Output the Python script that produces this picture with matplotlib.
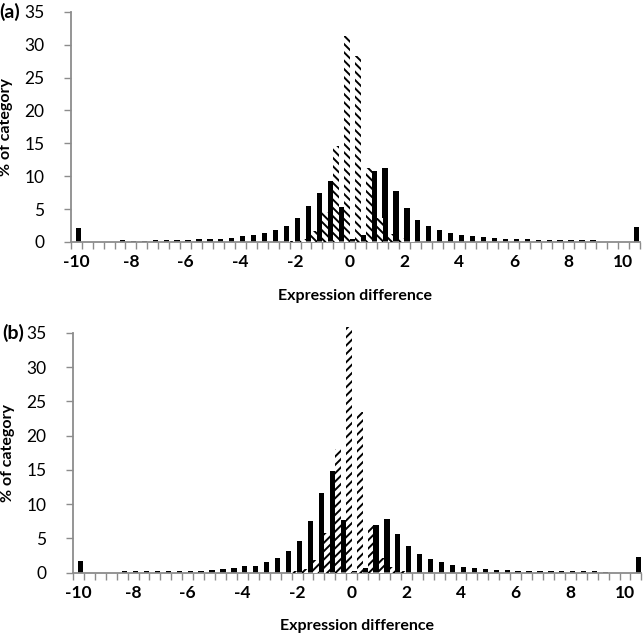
import numpy as np
import matplotlib.pyplot as plt

plt.rcParams["font.family"] = ["Lato", "DejaVu Sans"]
plt.rcParams["hatch.linewidth"] = 1.4

# =========================
# Data
# =========================
# bins of 0.4 from -10 to 10, plus one overflow bin (>10)
bin_values = [round(-10 + 0.4 * k, 1) for k in range(51)] + [10.4]
tick_values = [-10, -8, -6, -4, -2, 0, 2, 4, 6, 8, 10]

a_solid = [2.2, 0, 0, 0, 0.25, 0.2, 0.2, 0.25, 0.25, 0.3,
           0.3, 0.4, 0.4, 0.5, 0.6, 0.9, 1.1, 1.3, 1.8, 2.5,
           3.6, 5.4, 7.5, 9.3, 5.3, 0.4, 1.0, 10.8, 11.3, 7.8,
           5.1, 3.4, 2.4, 1.8, 1.3, 1.05, 0.9, 0.7, 0.6, 0.5,
           0.45, 0.4, 0.35, 0.3, 0.3, 0.3, 0.25, 0.25, 0, 0,
           0, 2.3]
a_hatched = [0] * 20 + [0.2, 0.5, 1.6, 4.6, 14.6, 31.3, 28.2, 11.2, 3.6, 1.2,
                        0.6, 0.2] + [0] * 20

b_solid = [1.7, 0, 0, 0, 0.2, 0.2, 0.25, 0.25, 0.25, 0.3,
           0.3, 0.3, 0.35, 0.6, 0.65, 1.0, 1.0, 1.5, 2.1, 3.1,
           4.6, 7.6, 11.7, 14.8, 7.7, 0.3, 0.7, 7.0, 7.9, 5.7,
           3.9, 2.8, 2.0, 1.5, 1.1, 0.8, 0.65, 0.5, 0.4, 0.35,
           0.3, 0.3, 0.25, 0.25, 0.2, 0.2, 0.2, 0.2, 0.15, 0,
           0, 2.3]
b_hatched = [0] * 20 + [0.2, 0.6, 1.9, 5.8, 18.0, 35.8, 23.4, 7.0, 2.1, 0.8,
                        0.3] + [0] * 21

panels = [
    ("(a)", a_solid, a_hatched, "\\\\\\\\", [0.110, 0.6195, 0.885, 0.362]),
    ("(b)", b_solid, b_hatched, "////", [0.1135, 0.0995, 0.884, 0.377]),
]

axis_grey = "#8c8c8c"

fig = plt.figure(figsize=(6.43, 6.36), dpi=100)

for tag, solid, hatched, hatch, rect in panels:
    ax = fig.add_axes(rect)
    x = np.arange(len(bin_values))

    ax.bar(x + 0.22, solid, width=0.48, color="black", linewidth=0, zorder=2)
    ax.bar(x - 0.26, hatched, width=0.5, facecolor="white", edgecolor="black",
           hatch=hatch, linewidth=0, zorder=3, clip_on=False)

    ax.set_xlim(-0.5, len(bin_values) - 0.5)
    ax.set_ylim(0, 35)

    # category ticks between bins, labels every 5th bin
    label_pos = [bin_values.index(v) for v in tick_values]
    ax.set_xticks(label_pos)
    ax.set_xticklabels([str(v) for v in tick_values], fontsize=12.5, fontweight="bold")
    ax.set_xticks(np.arange(-0.5, len(bin_values)), minor=True)
    ax.tick_params(axis="x", which="major", length=0, pad=9)
    ax.tick_params(axis="x", which="minor", length=5, width=1.0, color=axis_grey, direction="out")

    ax.set_yticks(np.arange(0, 36, 5))
    ax.tick_params(axis="y", length=5, width=1.0, color=axis_grey, direction="out",
                   labelsize=12.5, pad=14)

    for s in ["top", "right"]:
        ax.spines[s].set_visible(False)
    for s in ["left", "bottom"]:
        ax.spines[s].set_color(axis_grey)
        ax.spines[s].set_linewidth(1.3)

    ax.set_ylabel("% of category", fontsize=11.5, fontweight="bold", labelpad=8)
    ax.set_xlabel("Expression difference", fontsize=11.5, fontweight="bold", labelpad=13)

    ax.text(-0.125, 1.0, tag, transform=ax.transAxes, fontsize=14,
            fontweight="bold", ha="left", va="center")

fig.savefig("out.png", dpi=100)
